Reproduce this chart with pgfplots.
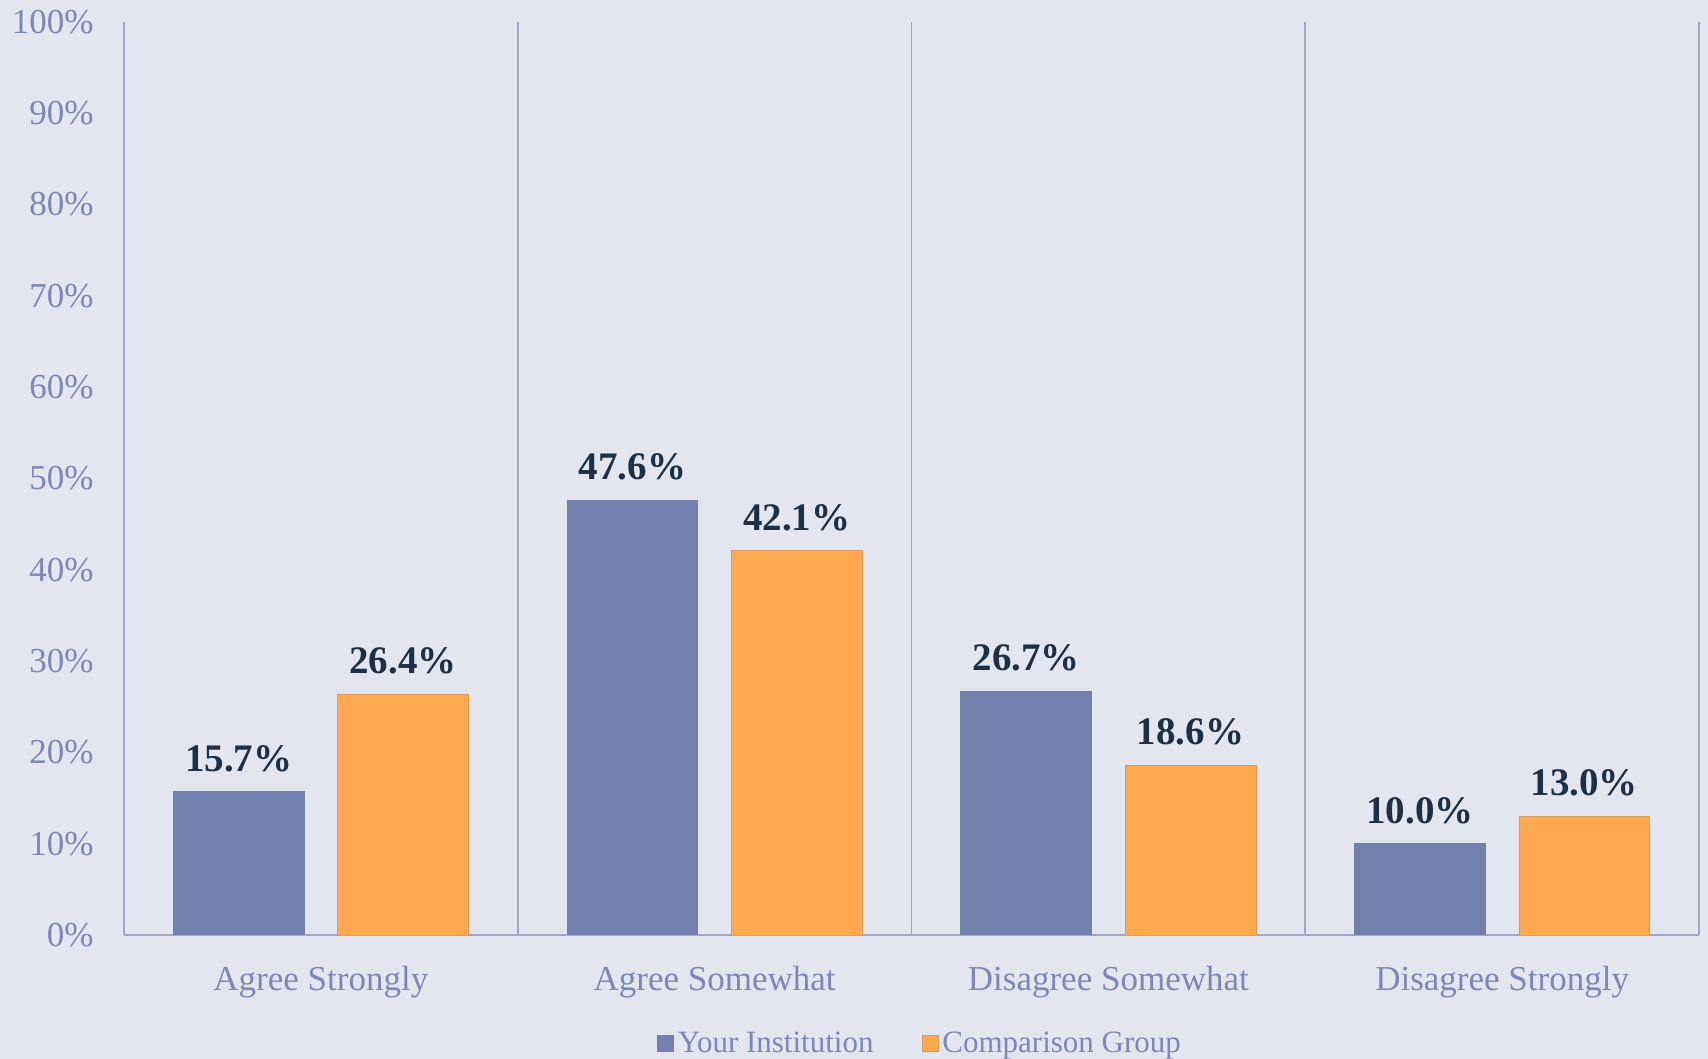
\documentclass[border=0pt]{standalone}
\usepackage{pgfplots}
\pgfplotsset{compat=1.18}
\usepackage{fontspec}
\setmainfont{Liberation Serif}

\definecolor{bgcol}{HTML}{E3E6EE}
\definecolor{inst}{HTML}{7480AD}
\definecolor{comp}{HTML}{FFA850}
\definecolor{gridcol}{HTML}{A3A7C4}
\definecolor{tickcol}{HTML}{7F87B5}
\definecolor{labcol}{HTML}{1F3044}

\begin{document}
\begin{tikzpicture}
	% page background, also fixes the size of the picture
	\path[use as bounding box, fill=bgcol] (-62pt,-62pt) rectangle (792pt,467.5pt);
	\begin{axis}[
			scale only axis,
			width=787.5pt, height=456.5pt,
			ybar, bar width=65.4pt,
			xmin=-0.5, xmax=3.5,
			ymin=0, ymax=100,
			xtick={0,1,2,3},
			xticklabels={Agree Strongly, Agree Somewhat, Disagree Somewhat, Disagree Strongly},
			minor xtick={0.5,1.5,2.5,3.5},
			xminorgrids=true,
			minor grid style={gridcol, line width=0.9pt},
			ytick={0,10,...,100},
			yticklabel={\pgfmathprintnumber{\tick}\%},
			/pgf/number format/assume math mode=true,
			axis x line*=bottom, axis y line*=left,
			axis line style={gridcol, line width=1.2pt},
			major tick length=0pt, minor tick length=0pt,
			tick label style={tickcol, font=\fontsize{17.5}{21}\selectfont},
			yticklabel style={xshift=-11.7pt},
			xticklabel style={yshift=-12.3pt},
			nodes near coords={\pgfmathprintnumber[fixed, fixed zerofill, precision=1]{\pgfplotspointmeta}\%},
			nodes near coords style={labcol, font=\fontsize{19.5}{23}\bfseries\selectfont, yshift=6.5pt},
			legend columns=2,
			legend style={at={(0.506,-0.119)}, anchor=center, draw=none, fill=none,
					text=tickcol, font=\fontsize{15.5}{18}\selectfont,
					/tikz/every even column/.append style={column sep=22pt}},
			legend image code/.code={\fill[#1] (0pt,-4pt) rectangle (8pt,4pt);},
		]
		\addplot[fill=inst, draw=inst!80!gray, line width=0.4pt, bar shift=-41.1pt]
		coordinates {(0,15.7) (1,47.6) (2,26.7) (3,10.0)};
		\addplot[fill=comp, draw=comp!70!gray, line width=0.4pt, bar shift=41.1pt]
		coordinates {(0,26.4) (1,42.1) (2,18.6) (3,13.0)};
		\legend{Your Institution, Comparison Group}
	\end{axis}
\end{tikzpicture}
\end{document}
